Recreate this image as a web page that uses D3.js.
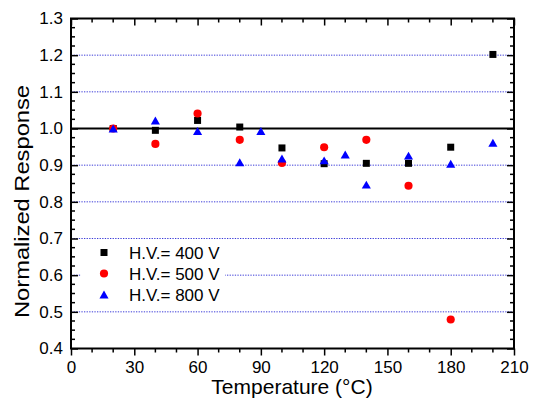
<!DOCTYPE html>
<html>
<head>
<meta charset="utf-8">
<script src="https://cdn.jsdelivr.net/npm/d3@7"></script>
<style>
  html, body { margin: 0; padding: 0; background: #fff; }
  svg { display: block; font-family: "Liberation Sans", Arial, sans-serif; }
</style>
</head>
<body>
<svg id="chart" width="542" height="401"></svg>
<script>
// Normalized detector response versus temperature for three high-voltage settings
const temps400 = [20, 40, 60, 80, 100, 120, 140, 160, 180, 200];
const resp400  = [1.000, 0.995, 1.022, 1.004, 0.947, 0.904, 0.905, 0.905, 0.949, 1.202];

const temps500 = [20, 40, 60, 80, 100, 120, 140, 160, 180];
const resp500  = [1.000, 0.958, 1.041, 0.969, 0.906, 0.949, 0.969, 0.844, 0.479];

const temps800 = [20, 40, 60, 80, 90, 100, 120, 130, 140, 160, 180, 200];
const resp800  = [1.000, 1.022, 0.993, 0.908, 0.993, 0.918, 0.913, 0.929, 0.847, 0.926, 0.904, 0.961];

const xTicks = [0, 30, 60, 90, 120, 150, 180, 210];
const yTicks = [0.4, 0.5, 0.6, 0.7, 0.8, 0.9, 1.0, 1.1, 1.2, 1.3];
const gridValues = [0.5, 0.6, 0.7, 0.8, 0.9, 1.1, 1.2];
const referenceLevel = 1.0;

const seriesNames = ["H.V.= 400 V", "H.V.= 500 V", "H.V.= 800 V"];

(function draw() {
  const svg = d3.select("#chart");
  const pLeft = 71, pRight = 514, pTop = 18.5, pBottom = 348.5;

  const x = d3.scaleLinear().domain([0, 210]).range([pLeft, pRight]);
  const y = d3.scaleLinear().domain([0.4, 1.3]).range([pBottom, pTop]);

  // Triangle with its bounding box centred on the data point
  const triangleCentered = {
    draw(ctx, size) {
      const s = Math.sqrt(size / (Math.sqrt(3) / 4));
      const h = s * Math.sqrt(3) / 2;
      ctx.moveTo(0, -h / 2);
      ctx.lineTo(s / 2, h / 2);
      ctx.lineTo(-s / 2, h / 2);
      ctx.closePath();
    }
  };

  // Dotted horizontal grid
  svg.append("g")
    .selectAll("line")
    .data(gridValues)
    .join("line")
    .attr("x1", pLeft).attr("x2", pRight)
    .attr("y1", d => y(d)).attr("y2", d => y(d))
    .attr("stroke", "#3c3cd8")
    .attr("stroke-width", 1)
    .attr("stroke-dasharray", "1.3,1.3");

  // Solid reference line at unity
  svg.append("line")
    .attr("x1", pLeft).attr("x2", pRight)
    .attr("y1", y(referenceLevel)).attr("y2", y(referenceLevel))
    .attr("stroke", "#000").attr("stroke-width", 2);

  // Minor ticks
  const xMinor = d3.range(0, 211, 10).filter(v => v % 30 !== 0);
  const yMinor = d3.range(0, 37).map(i => +(0.4 + i * 0.025).toFixed(3))
    .filter(v => Math.abs(Math.round(v * 10) - v * 10) > 1e-6);

  const tickG = svg.append("g").attr("stroke", "#000").attr("stroke-width", 1.5);
  // bottom: outward
  tickG.append("g").selectAll("line").data(xMinor).join("line")
    .attr("x1", d => x(d)).attr("x2", d => x(d))
    .attr("y1", pBottom).attr("y2", pBottom + 4);
  // top: inward
  tickG.append("g").selectAll("line").data(xMinor).join("line")
    .attr("x1", d => x(d)).attr("x2", d => x(d))
    .attr("y1", pTop).attr("y2", pTop + 4);
  // left: inward
  tickG.append("g").selectAll("line").data(yMinor).join("line")
    .attr("x1", pLeft).attr("x2", pLeft + 4)
    .attr("y1", d => y(d)).attr("y2", d => y(d));
  // right: inward
  tickG.append("g").selectAll("line").data(yMinor).join("line")
    .attr("x1", pRight).attr("x2", pRight - 4)
    .attr("y1", d => y(d)).attr("y2", d => y(d));

  // Major axes
  const fontSize = 17;
  const xAxis = svg.append("g")
    .attr("transform", `translate(0,${pBottom})`)
    .call(d3.axisBottom(x).tickValues(xTicks).tickSize(7).tickPadding(5).tickFormat(d3.format("d")));
  const xTop = svg.append("g")
    .attr("transform", `translate(0,${pTop})`)
    .call(d3.axisTop(x).tickValues(xTicks).tickSize(-7).tickFormat(""));
  const yAxis = svg.append("g")
    .attr("transform", `translate(${pLeft},0)`)
    .call(d3.axisLeft(y).tickValues(yTicks).tickSize(-7).tickPadding(8).tickFormat(d3.format(".1f")));
  const yRight = svg.append("g")
    .attr("transform", `translate(${pRight},0)`)
    .call(d3.axisRight(y).tickValues(yTicks).tickSize(-7).tickFormat(""));

  [xAxis, xTop, yAxis, yRight].forEach(g => {
    g.select(".domain").remove();
    g.selectAll(".tick line").attr("stroke", "#000").attr("stroke-width", 1.5);
    g.selectAll("text")
      .attr("fill", "#000")
      .attr("font-size", fontSize)
      .attr("font-family", "'Liberation Sans', Arial, sans-serif");
  });

  // Frame
  svg.append("rect")
    .attr("x", pLeft).attr("y", pTop)
    .attr("width", pRight - pLeft).attr("height", pBottom - pTop)
    .attr("fill", "none").attr("stroke", "#000").attr("stroke-width", 2);

  // Legend (white box hides the grid behind it)
  const legend = svg.append("g");
  legend.append("rect")
    .attr("x", 81).attr("y", 243).attr("width", 144).attr("height", 60)
    .attr("fill", "#fff");

  const legendRows = [
    { name: seriesNames[0], color: "#000", shape: d3.symbolSquare, size: 49 },
    { name: seriesNames[1], color: "#f00", shape: d3.symbolCircle, size: 52 },
    { name: seriesNames[2], color: "#00f", shape: triangleCentered, size: 36 }
  ];
  legendRows.forEach((r, i) => {
    const cy = 252.5 + i * 21;
    legend.append("path")
      .attr("d", d3.symbol(r.shape, r.size)())
      .attr("transform", `translate(104,${cy})`)
      .attr("fill", r.color);
    legend.append("text")
      .attr("x", 129).attr("y", cy)
      .attr("dy", "0.36em")
      .attr("font-size", fontSize)
      .attr("fill", "#000")
      .text(r.name);
  });

  // Data markers: 400 V, then 500 V, then 800 V on top
  const plotSeries = (temps, vals, shape, size, color) => {
    svg.append("g")
      .selectAll("path")
      .data(temps.map((t, i) => [t, vals[i]]))
      .join("path")
      .attr("d", d3.symbol(shape, size)())
      .attr("transform", d => `translate(${x(d[0])},${y(d[1])})`)
      .attr("fill", color);
  };
  plotSeries(temps400, resp400, d3.symbolSquare, 49, "#000");
  plotSeries(temps500, resp500, d3.symbolCircle, 52, "#f00");
  plotSeries(temps800, resp800, triangleCentered, 36, "#00f");

  // Axis titles
  svg.append("text")
    .attr("x", (pLeft + pRight) / 2 - 0.5).attr("y", 394)
    .attr("text-anchor", "middle")
    .attr("font-size", 21)
    .attr("fill", "#000")
    .text("Temperature (°C)");

  svg.append("text")
    .attr("transform", "translate(29,201.5) rotate(-90)")
    .attr("text-anchor", "middle")
    .attr("font-size", 21)
    .attr("fill", "#000")
    .attr("textLength", 233)
    .attr("lengthAdjust", "spacingAndGlyphs")
    .text("Normalized Response");
})();
</script>
</body>
</html>
